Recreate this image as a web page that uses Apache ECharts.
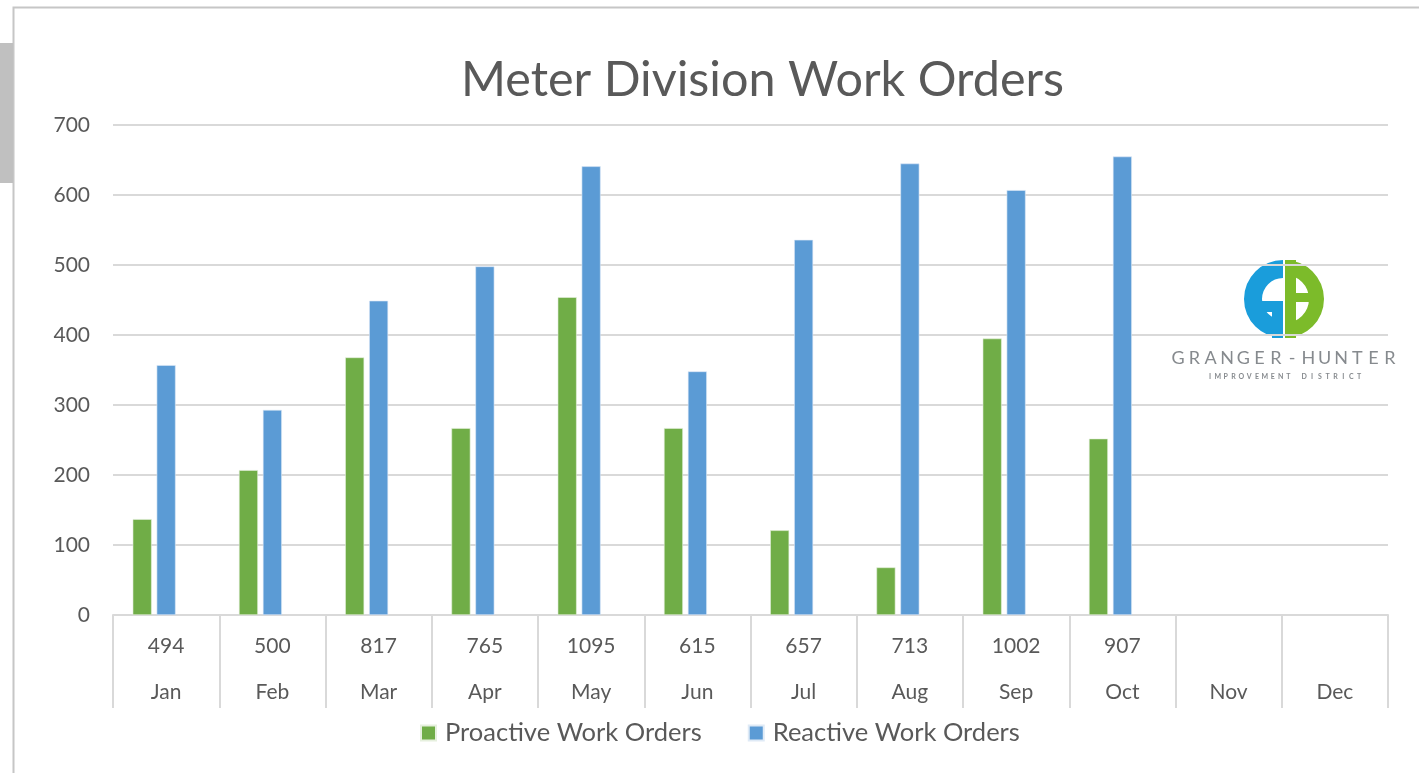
<!DOCTYPE html>
<html>
<head>
<meta charset="utf-8">
<title>Meter Division Work Orders</title>
<script src="https://cdn.jsdelivr.net/npm/echarts@6/dist/echarts.min.js"></script>
<style>
  html, body { margin: 0; padding: 0; background: #fff; }
  #chart { width: 1419px; height: 773px; }
</style>
</head>
<body>
<div id="chart"></div>
<script>
// months on the axis
var months = ['Jan', 'Feb', 'Mar', 'Apr', 'May', 'Jun', 'Jul', 'Aug', 'Sep', 'Oct', 'Nov', 'Dec'];
// totals shown in the first label row
var totals = [494, 500, 817, 765, 1095, 615, 657, 713, 1002, 907, null, null];
var proactive = [137, 207, 368, 267, 454, 267, 121, 68, 395, 252, null, null];
var reactive = [357, 293, 449, 498, 641, 348, 536, 645, 607, 655, null, null];
// empty third column Excel kept for the totals
var totalCol = [null, null, null, null, null, null, null, null, null, null, null, null];
var yTicks = [0, 100, 200, 300, 400, 500, 600, 700];

var textColor = '#595959';
var fontFamily = 'Lato, "Open Sans", sans-serif';

var chartDom = document.getElementById('chart');
var myChart = echarts.init(chartDom);

// logo letters, spaced out like the image
function spacedText(str, x0, x1, y, size, weight, color) {
  var out = [];
  var step = (x1 - x0) / str.length;
  for (var i = 0; i < str.length; i++) {
    out.push({
      type: 'text',
      x: x0 + step * (i + 0.5),
      y: y,
      silent: true,
      style: {
        text: str[i],
        fill: color,
        font: weight + ' ' + size + 'px ' + fontFamily,
        textAlign: 'center',
        textVerticalAlign: 'middle'
      }
    });
  }
  return out;
}

var logoBlue = '#1a9ddb';
var logoGreen = '#7cbb2a';
var cx = 1284, cy = 299;

var graphics = [
  // outer frame
  {
    type: 'rect',
    silent: true,
    shape: { x: 13.5, y: 7.5, width: 1420, height: 800 },
    style: { fill: 'none', stroke: '#c6c6c6', lineWidth: 2 }
  },
  // grey tab on the left
  {
    type: 'rect',
    silent: true,
    shape: { x: 0, y: 43, width: 13, height: 140 },
    style: { fill: '#c0c0c0' }
  },
  // G
  {
    type: 'sector', silent: true,
    shape: { cx: cx - 1, cy: cy, r: 39, r0: 21, startAngle: Math.PI / 2, endAngle: Math.PI * 3 / 2 },
    style: { fill: logoBlue }
  },
  { type: 'rect', silent: true, shape: { x: 1262, y: 301, width: 21, height: 11 }, style: { fill: logoBlue } },
  { type: 'rect', silent: true, shape: { x: 1272, y: 301, width: 11, height: 37 }, style: { fill: logoBlue } },
  // H
  {
    type: 'sector', silent: true,
    shape: { cx: cx + 1, cy: cy, r: 39, r0: 24, startAngle: -Math.PI / 2, endAngle: Math.PI / 2 },
    style: { fill: logoGreen }
  },
  { type: 'rect', silent: true, shape: { x: 1285, y: 260, width: 11, height: 78 }, style: { fill: logoGreen } },
  { type: 'rect', silent: true, shape: { x: 1296, y: 293, width: 14, height: 9 }, style: { fill: logoGreen } }
];
graphics = graphics
  .concat(spacedText('GRANGER-HUNTER', 1170, 1398, 358, 18, 'normal', '#868a8e'))
  .concat(spacedText('IMPROVEMENT DISTRICT', 1206, 1363, 377, 7, 'bold', '#868a8e'));

var option = {
  animation: false,
  backgroundColor: '#fff',
  title: {
    text: 'Meter Division Work Orders',
    left: 456,
    top: 51,
    textStyle: {
      color: textColor,
      fontFamily: fontFamily,
      fontSize: 48.5,
      fontWeight: 'normal'
    }
  },
  legend: {
    data: ['Proactive Work Orders', 'Reactive Work Orders'],
    left: 420,
    top: 720,
    padding: 0,
    itemWidth: 15,
    itemHeight: 15,
    itemGap: 46,
    icon: 'rect',
    textStyle: { color: textColor, fontFamily: fontFamily, fontSize: 25.5, padding: [0, 0, 0, 4] }
  },
  grid: {
    left: 113,
    right: 31,
    top: 125,
    bottom: 158
  },
  xAxis: {
    type: 'category',
    data: months,
    axisLine: { show: true, lineStyle: { color: '#d9d9d9', width: 2 } },
    axisTick: { show: true, interval: 0, length: 93, lineStyle: { color: '#d9d9d9', width: 2 } },
    axisLabel: {
      interval: 0,
      margin: 8,
      formatter: function (value, index) {
        var t = totals[index] == null ? '\u00a0' : totals[index];
        return '{t|' + t + '}\n{m|' + value + '}';
      },
      rich: {
        t: { color: textColor, fontFamily: fontFamily, fontSize: 21, lineHeight: 46 },
        m: { color: textColor, fontFamily: fontFamily, fontSize: 21, lineHeight: 46 }
      }
    }
  },
  yAxis: {
    type: 'value',
    min: yTicks[0],
    max: yTicks[yTicks.length - 1],
    interval: 100,
    axisLine: { show: false },
    axisTick: { show: false },
    splitLine: { lineStyle: { color: '#d9d9d9', width: 2 } },
    axisLabel: { color: textColor, fontFamily: fontFamily, fontSize: 21, margin: 23 }
  },
  series: [
    {
      name: 'Proactive Work Orders',
      type: 'bar',
      data: proactive,
      barWidth: 19,
      barGap: '26%',
      itemStyle: { color: '#70ad47', borderColor: '#e6f0de', borderWidth: 0.6 }
    },
    {
      name: 'Reactive Work Orders',
      type: 'bar',
      data: reactive,
      barWidth: 19,
      barGap: '26%',
      itemStyle: { color: '#5b9bd5', borderColor: '#dfeaf6', borderWidth: 0.6 }
    },
    {
      name: 'Total',
      type: 'bar',
      data: totalCol,
      barWidth: 19,
      barGap: '26%',
      itemStyle: { color: 'rgba(0,0,0,0)' }
    }
  ],
  graphic: graphics
};

option && myChart.setOption(option);

window.addEventListener('resize', function () {
  myChart.resize();
});
</script>
</body>
</html>
